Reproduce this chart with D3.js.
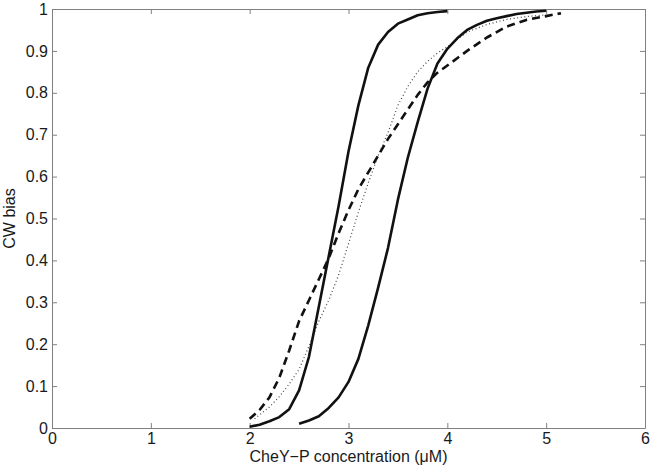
<!DOCTYPE html>
<html>
<head>
<meta charset="utf-8">
<script src="https://cdn.jsdelivr.net/npm/d3@7"></script>
<style>
  body { margin: 0; background: #fff; }
  svg text { font-family: "Liberation Sans", Arial, sans-serif; }
</style>
</head>
<body>
<div id="chart"></div>
<script>
// curve data
const solidLeftX = [2.0, 2.1, 2.2, 2.3, 2.4, 2.5, 2.6, 2.7, 2.8, 2.9, 3.0, 3.1, 3.2, 3.3, 3.4, 3.5, 3.6, 3.7, 3.8, 3.9, 4.0]
const solidLeftY = [0.003, 0.008, 0.016, 0.026, 0.045, 0.09, 0.17, 0.29, 0.41, 0.53, 0.66, 0.77, 0.86, 0.915, 0.945, 0.965, 0.975, 0.985, 0.99, 0.993, 0.995]

const solidRightX = [2.5, 2.6, 2.7, 2.8, 2.9, 3.0, 3.1, 3.2, 3.3, 3.4, 3.5, 3.6, 3.7, 3.8, 3.9, 4.0, 4.1, 4.2, 4.3, 4.4, 4.5, 4.6, 4.7, 4.8, 4.9, 5.0]
const solidRightY = [0.01, 0.018, 0.028, 0.048, 0.073, 0.11, 0.165, 0.245, 0.335, 0.43, 0.545, 0.645, 0.73, 0.81, 0.87, 0.905, 0.93, 0.95, 0.962, 0.972, 0.978, 0.983, 0.988, 0.991, 0.994, 0.996]

const dashedX = [2.0, 2.1, 2.2, 2.3, 2.4, 2.5, 2.6, 2.7, 2.8, 2.9, 3.0, 3.1, 3.2, 3.3, 3.4, 3.5, 3.6, 3.7, 3.8, 3.9, 4.0, 4.2, 4.4, 4.6, 4.8, 5.0, 5.15]
const dashedY = [0.022, 0.043, 0.073, 0.12, 0.185, 0.255, 0.305, 0.355, 0.405, 0.465, 0.52, 0.57, 0.61, 0.65, 0.69, 0.725, 0.76, 0.795, 0.825, 0.848, 0.865, 0.9, 0.932, 0.958, 0.974, 0.983, 0.99]

const dottedX = [2.05, 2.2, 2.3, 2.4, 2.5, 2.6, 2.7, 2.8, 2.9, 3.0, 3.1, 3.2, 3.3, 3.4, 3.5, 3.6, 3.7, 3.8, 3.9, 4.0, 4.2, 4.4, 4.6, 4.8, 5.0]
const dottedY = [0.022, 0.05, 0.075, 0.105, 0.14, 0.195, 0.255, 0.305, 0.365, 0.44, 0.515, 0.585, 0.65, 0.705, 0.77, 0.815, 0.85, 0.875, 0.895, 0.91, 0.945, 0.963, 0.975, 0.982, 0.986]

const xTicks = [0, 1, 2, 3, 4, 5, 6]
const yTicks = [0, 0.1, 0.2, 0.3, 0.4, 0.5, 0.6, 0.7, 0.8, 0.9, 1]

const margin = { top: 9, right: 5, bottom: 43, left: 52 },
    width = 650 - margin.left - margin.right,
    height = 471 - margin.top - margin.bottom

const svg = d3.select('#chart')
    .append('svg')
    .attr('width', 650)
    .attr('height', 471)
    .append('g')
    .attr('transform', 'translate(' + margin.left + ',' + margin.top + ')')

const x = d3.scaleLinear().domain([0, 6]).range([0, width])
const y = d3.scaleLinear().domain([0, 1]).range([height, 0])

const axisColor = '#808080'
const fontSize = '16px'

// box axes with inward ticks, labels only bottom/left
const styleAxis = (g, showText) => {
    g.select('.domain').attr('stroke', axisColor)
    g.selectAll('.tick line').attr('stroke', axisColor)
    g.selectAll('.tick text')
        .style('font-size', fontSize)
        .attr('fill', '#1a1a1a')
        .style('display', showText ? null : 'none')
}

svg.append('g')
    .attr('transform', 'translate(0,' + height + ')')
    .call(d3.axisBottom(x).tickValues(xTicks).tickFormat(d3.format('d')).tickSizeInner(-5).tickSizeOuter(0).tickPadding(5))
    .call(g => styleAxis(g, true))

svg.append('g')
    .call(d3.axisTop(x).tickValues(xTicks).tickSizeInner(-5).tickSizeOuter(0))
    .call(g => styleAxis(g, false))

svg.append('g')
    .call(d3.axisLeft(y).tickValues(yTicks).tickFormat(d => d === 0 || d === 1 ? d3.format('d')(d) : d3.format('.1f')(d)).tickSizeInner(-5).tickSizeOuter(0).tickPadding(4))
    .call(g => styleAxis(g, true))

svg.append('g')
    .attr('transform', 'translate(' + width + ',0)')
    .call(d3.axisRight(y).tickValues(yTicks).tickSizeInner(-5).tickSizeOuter(0))
    .call(g => styleAxis(g, false))

const line = d3.line()
    .x(d => x(d[0]))
    .y(d => y(d[1]))

const series = [
    { xs: dottedX, ys: dottedY, dash: '1,2.6', w: 1.2, color: '#444' },
    { xs: solidRightX, ys: solidRightY, dash: null, w: 2.6, color: '#111' },
    { xs: solidLeftX, ys: solidLeftY, dash: null, w: 2.6, color: '#111' },
    { xs: dashedX, ys: dashedY, dash: '8,5', w: 2.6, color: '#111' }
]

series.forEach(s => {
    svg.append('path')
        .datum(s.xs.map((v, i) => [v, s.ys[i]]))
        .attr('d', line)
        .attr('fill', 'none')
        .attr('stroke', s.color)
        .attr('stroke-width', s.w)
        .attr('stroke-dasharray', s.dash)
        .attr('stroke-linejoin', 'round')
})

svg.append('text')
    .attr('x', width / 2)
    .attr('y', height + 34)
    .attr('text-anchor', 'middle')
    .style('font-size', fontSize)
    .attr('fill', '#1a1a1a')
    .text('CheY\u2212P concentration (\u03bcM)')

svg.append('text')
    .attr('transform', 'translate(' + (-37) + ',' + (height / 2) + ') rotate(-90)')
    .attr('text-anchor', 'middle')
    .style('font-size', fontSize)
    .attr('fill', '#1a1a1a')
    .text('CW bias')
</script>
</body>
</html>
